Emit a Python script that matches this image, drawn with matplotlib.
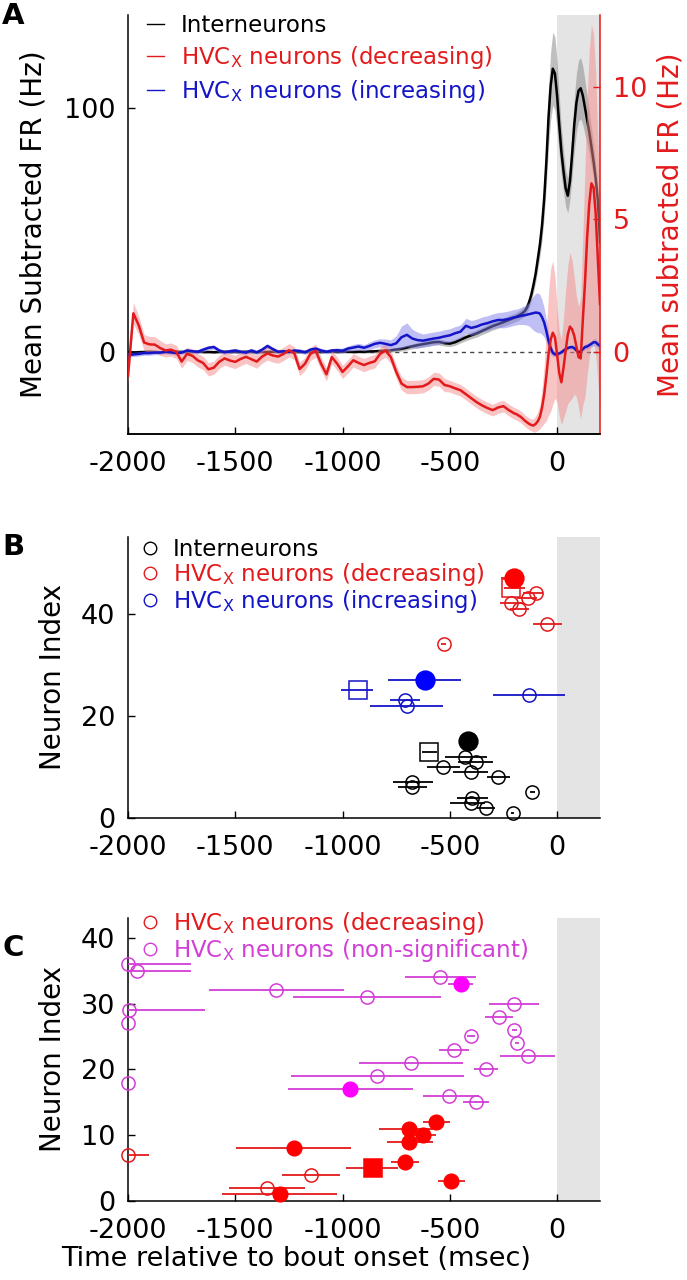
import numpy as np
import matplotlib
matplotlib.use('Agg')
import matplotlib.pyplot as plt
from matplotlib.lines import Line2D

plt.rcParams['font.family'] = ['DejaVu Sans']
plt.rcParams['mathtext.fontset'] = 'dejavusans'
plt.rcParams['axes.unicode_minus'] = False

# ------------------------------------------------------------------ Panel A data
t_coarse = np.arange(-2000, -199, 25)
t_fine = np.arange(-190, 201, 10)
t_ms = np.concatenate([t_coarse, t_fine])

interneuron_fr = [
    0.0, -0.2, -0.1, 0.0, 0.1, 0.0, -0.1, 0.0, 0.0, 0.1,
    0.0, -0.1, 0.0, 0.1, 0.0, 0.0, -0.1, 0.0, 0.1, 0.0,
    0.0, 0.0, 0.1, 0.0, -0.1, 0.0, 0.0, 0.1, 0.0, 0.0,
    0.0, 0.1, 0.0, 0.0, 0.1, 0.0, 0.0, 0.1, 0.1, 0.0,
    0.1, 0.1, 0.0, 0.1, 0.1,
    0.2, 0.3, 0.4, 0.5, 0.7, 1.0, 1.3, 1.8, 2.3, 2.8,
    3.2, 3.6, 4.0, 4.1, 3.6, 3.4, 4.0, 5.0, 6.0, 6.8,
    7.6, 8.6, 9.6, 10.6, 11.4, 12.2, 13.1, 14.0,
    14.4, 14.9, 15.4, 16.0, 16.8, 18.2, 20.5, 23.5, 27.5, 32,
    38, 44, 52, 63, 78, 96, 109, 116, 114, 105,
    93, 82, 74, 67, 64, 70, 81, 93, 102, 107,
    108, 105, 100, 95, 90, 84, 78, 71, 62, 45]
interneuron_sem = [
    0.8, 0.7, 0.6, 0.6, 0.5, 0.5, 0.5, 0.6, 0.5, 0.5,
    0.5, 0.5, 0.5, 0.5, 0.5, 0.5, 0.5, 0.5, 0.5, 0.5,
    0.5, 0.5, 0.5, 0.5, 0.5, 0.5, 0.5, 0.5, 0.5, 0.5,
    0.5, 0.5, 0.5, 0.5, 0.5, 0.5, 0.5, 0.5, 0.5, 0.5,
    0.5, 0.5, 0.5, 0.6, 0.6,
    0.6, 0.7, 0.7, 0.8, 0.8, 0.9, 0.9, 1.0, 1.0, 1.1,
    1.1, 1.2, 1.2, 1.2, 1.2, 1.2, 1.3, 1.3, 1.4, 1.4,
    1.5, 1.5, 1.6, 1.6, 1.7, 1.7, 1.8, 1.8,
    1.8, 1.9, 1.9, 2.0, 2.0, 2.1, 2.3, 2.6, 3.0, 3.5,
    4.2, 5.0, 6.0, 7.5, 9.5, 12, 14, 15, 15, 14,
    12, 10, 8.5, 7.5, 7, 7.5, 9, 11, 12, 12.5,
    12.5, 12, 11, 10, 9, 8, 7, 6, 5.5, 5]

hvcx_dec_fr = [
    -0.9, 1.45, 1.0, 0.35, 0.28, 0.27, 0.14, 0.05, 0.08, 0.0,
    -0.37, -0.08, -0.15, -0.32, -0.42, -0.66, -0.6, -0.38, -0.25, -0.33,
    -0.38, -0.27, -0.19, -0.28, -0.37, -0.18, -0.06, -0.14, -0.18, -0.08,
    0.06, -0.05, -0.65, -0.45, -0.08, 0.04, -0.45, -0.85, -0.2, -0.45,
    -0.76, -0.55, -0.32, -0.42, -0.5, -0.42, -0.36, -0.08, 0.05, -0.2,
    -0.75, -1.2, -1.33, -1.33, -1.32, -1.3, -1.2, -1.02, -1.05, -1.25,
    -1.3, -1.38, -1.45, -1.6, -1.75, -1.9, -2.02, -2.12, -2.2, -2.1,
    -2.05, -2.2, -2.32,
    -2.35, -2.4, -2.45, -2.52, -2.6, -2.66, -2.72, -2.76, -2.78, -2.72,
    -2.62, -2.45, -2.1, -1.6, -0.9, -0.1, 0.45, 0.72, 0.55, -0.1,
    -0.8, -1.15, -0.6, 0.05, 0.65, 0.95, 0.85, 0.6, 0.2, -0.2,
    -0.25, 1.2, 2.6, 4.3, 5.6, 6.35, 6.2, 5.2, 3.5, 1.8]
hvcx_dec_sem = [
    0.35, 0.4, 0.35, 0.3, 0.3, 0.3, 0.28, 0.25, 0.25, 0.25,
    0.25, 0.25, 0.25, 0.25, 0.25, 0.25, 0.25, 0.25, 0.25, 0.25,
    0.25, 0.25, 0.25, 0.25, 0.25, 0.25, 0.25, 0.25, 0.25, 0.25,
    0.25, 0.25, 0.25, 0.25, 0.25, 0.25, 0.25, 0.25, 0.25, 0.25,
    0.25, 0.25, 0.25, 0.25, 0.25, 0.25, 0.25, 0.25, 0.25, 0.25,
    0.25, 0.25, 0.25, 0.25, 0.25, 0.25, 0.25, 0.25, 0.25, 0.25,
    0.22, 0.22, 0.22, 0.22, 0.22, 0.22, 0.22, 0.22, 0.22, 0.22,
    0.22, 0.22, 0.22,
    0.22, 0.22, 0.22, 0.22, 0.22, 0.22, 0.22, 0.22, 0.25, 0.3,
    0.35, 0.45, 0.7, 1.1, 1.7, 2.3, 2.7, 2.7, 2.3, 1.8,
    1.6, 1.6, 1.9, 2.3, 2.6, 2.8, 2.6, 2.2, 1.9, 1.9,
    2.3, 3.2, 4.3, 5.2, 5.8, 6.0, 5.8, 5.3, 4.6, 4.0]

hvcx_inc_fr = [
    -0.12, -0.1, -0.08, -0.05, -0.05, -0.03, -0.03, 0.0, -0.02, -0.05,
    -0.03, 0.05, 0.02, 0.0, 0.08, 0.15, 0.18, 0.05, -0.02, 0.02,
    0.05, 0.0, -0.03, 0.05, -0.02, 0.08, 0.22, 0.1, 0.0, 0.02,
    0.0, 0.05, 0.03, -0.02, 0.08, 0.12, 0.05, 0.0, 0.05, 0.06,
    0.04, 0.12, 0.16, 0.2, 0.15, 0.22, 0.3, 0.34, 0.3, 0.25,
    0.32, 0.55, 0.64, 0.5, 0.44, 0.42, 0.46, 0.5, 0.53, 0.58,
    0.62, 0.7, 0.76, 0.98, 0.9, 0.95, 1.03, 1.08, 1.15, 1.2,
    1.2, 1.24, 1.3,
    1.31, 1.33, 1.35, 1.37, 1.38, 1.4, 1.42, 1.44, 1.46, 1.48,
    1.47, 1.44, 1.3, 1.1, 0.78, 0.42, 0.14, -0.04, -0.1, -0.1,
    -0.06, -0.02, 0.05, 0.1, 0.14, 0.17, 0.18, 0.14, 0.05, -0.02,
    0.02, 0.1, 0.18, 0.2, 0.25, 0.3, 0.36, 0.36, 0.28, 0.22]
hvcx_inc_sem = [
    0.08, 0.08, 0.08, 0.08, 0.08, 0.08, 0.08, 0.08, 0.08, 0.08,
    0.08, 0.08, 0.08, 0.08, 0.08, 0.08, 0.08, 0.08, 0.08, 0.08,
    0.08, 0.08, 0.08, 0.08, 0.08, 0.08, 0.08, 0.08, 0.08, 0.08,
    0.08, 0.08, 0.08, 0.08, 0.08, 0.08, 0.08, 0.08, 0.08, 0.08,
    0.1, 0.1, 0.12, 0.12, 0.12, 0.14, 0.15, 0.15, 0.18, 0.2,
    0.28, 0.42, 0.45, 0.35, 0.3, 0.25, 0.25, 0.25, 0.25, 0.25,
    0.25, 0.25, 0.25, 0.28, 0.28, 0.28, 0.28, 0.28, 0.28, 0.28,
    0.3, 0.3, 0.3,
    0.3, 0.3, 0.32, 0.34, 0.36, 0.4, 0.45, 0.55, 0.65, 0.72,
    0.75, 0.72, 0.65, 0.55, 0.45, 0.35, 0.25, 0.15, 0.1, 0.08,
    0.08, 0.08, 0.08, 0.08, 0.08, 0.08, 0.08, 0.08, 0.08, 0.08,
    0.1, 0.1, 0.1, 0.12, 0.12, 0.12, 0.14, 0.14, 0.15, 0.15]

# ------------------------------------------------------------------ Panel B data
b_int_x = [-429, -378, -530, -402, -274, -674, -674, -115, -398, -402, -331, -207]
b_int_y = [12, 11, 10, 9, 8, 7, 6, 5, 4, 3, 2, 1]
b_int_lo = [-522, -460, -607, -483, -328, -763, -740, -125, -468, -499, -374, -215]
b_int_hi = [-328, -297, -452, -320, -219, -580, -607, -105, -320, -335, -289, -199]
b_int_mean_x, b_int_mean_y = [-416], [15]
b_int_med_x, b_int_med_y, b_int_med_lo, b_int_med_hi = [-597], [13], [-628], [-558]

b_inc_x = [-129, -709, -701]
b_inc_y = [24, 23, 22]
b_inc_lo = [-297, -779, -874]
b_inc_hi = [39, -639, -530]
b_inc_mean_x, b_inc_mean_y, b_inc_mean_lo, b_inc_mean_hi = [-615], [27], [-786], [-448]
b_inc_med_x, b_inc_med_y, b_inc_med_lo, b_inc_med_hi = [-929], [25], [-1006], [-856]

b_dec_x = [-98, -137, -216, -177, -48, -528]
b_dec_y = [44, 43, 42, 41, 38, 34]
b_dec_lo = [-157, -185, -266, -220, -110, -540]
b_dec_hi = [-64, -95, -157, -130, 22, -516]
b_dec_mean_x, b_dec_mean_y, b_dec_mean_lo, b_dec_mean_hi = [-200], [47], [-261], [-160]
b_dec_med_x, b_dec_med_y, b_dec_med_lo, b_dec_med_hi = [-215], [45], [-249], [-150]

# ------------------------------------------------------------------ Panel C data
c_ns_x = [-2000, -1958, -1309, -887, -548, -1995, -2000, -203, -272, -199,
          -186, -401, -481, -137, -680, -331, -840, -2000, -506, -380]
c_ns_y = [36, 35, 32, 31, 34, 29, 27, 30, 28, 26, 24, 25, 23, 22, 21, 20, 19, 18, 16, 15]
c_ns_lo = [-2000, -2000, -1623, -1231, -711, -2000, -2000, -318, -334, -212,
           -196, -420, -551, -264, -921, -385, -1242, -2000, -626, -439]
c_ns_hi = [-1705, -1705, -991, -540, -377, -1643, -2000, -85, -207, -186,
           -176, -382, -411, -12, -439, -276, -435, -2000, -362, -318]
c_ns_sig_x = [-450, -964]
c_ns_sig_y = [33, 17]
c_ns_sig_lo = [-509, -1255]
c_ns_sig_hi = [-393, -672]

c_dec_sig_x = [-564, -691, -623, -688, -1228, -711, -494, -1293]
c_dec_sig_y = [12, 11, 10, 9, 8, 6, 3, 1]
c_dec_sig_lo = [-626, -828, -696, -793, -1498, -776, -556, -1561]
c_dec_sig_hi = [-501, -579, -564, -579, -960, -644, -427, -1026]
c_dec_med_x, c_dec_med_y, c_dec_med_lo, c_dec_med_hi = [-859], [5], [-983], [-742]
c_dec_x = [-2000, -1149, -1352]
c_dec_y = [7, 4, 2]
c_dec_lo = [-2000, -1281, -1530]
c_dec_hi = [-1904, -1011, -1177]

x_ticks = [-2000, -1500, -1000, -500, 0]

# ------------------------------------------------------------------ styling
RED = '#e31a1c'
BLUE = '#1414c8'
MAG = '#d23ed6'
MAGF = '#ff00ff'
SHADE = '#e4e4e4'
FS_TICK = 19.5
FS_LAB = 20
FS_LEG = 16.5
HVCX = r'HVC$_\mathregular{X}$'

fig = plt.figure(figsize=(6.87, 12.8), dpi=100)
W, H = 687.0, 1280.0


def add_axes(left, top, right, bottom):
    return fig.add_axes([left / W, 1 - bottom / H, (right - left) / W, (bottom - top) / H])


def style(ax):
    ax.tick_params(direction='in', length=5, width=1.0, labelsize=FS_TICK, pad=9)
    ax.tick_params(axis='x', pad=12)
    for s in ax.spines.values():
        s.set_linewidth(1.1)


# ------------------------------------------------------------------ Panel A
axA = add_axes(128, 15, 600, 434)
axA.axvspan(0, 200, color=SHADE, zorder=0, lw=0)
axA.axhline(0, ls='--', color='#444444', lw=1.0, dashes=(3, 3), zorder=1)
bf = np.array(interneuron_fr)
bs = np.array(interneuron_sem)
axA.fill_between(t_ms, bf - bs, bf + bs, color='#8c8c8c', alpha=0.55, lw=0, zorder=2)
lk, = axA.plot(t_ms, bf, color='black', lw=1.8, zorder=3)
axA.set_xlim(-2000, 200)
axA.set_ylim(-33.6, 138)
axA.set_yticks([0, 100])
axA.set_xticks(x_ticks)
axA.set_ylabel('Mean Subtracted FR (Hz)', fontsize=FS_LAB, labelpad=12)
axA.spines['top'].set_visible(False)
axA.spines['right'].set_visible(False)
style(axA)

axR = axA.twinx()
rf = np.array(hvcx_dec_fr)
rs = np.array(hvcx_dec_sem)
uf = np.array(hvcx_inc_fr)
us = np.array(hvcx_inc_sem)
axR.fill_between(t_ms, uf - us, uf + us, color='#8080ee', alpha=0.5, lw=0)
axR.fill_between(t_ms, rf - rs, rf + rs, color='#f48a8a', alpha=0.5, lw=0)
lb, = axR.plot(t_ms, uf, color=BLUE, lw=1.8)
lr, = axR.plot(t_ms, rf, color=RED, lw=1.8)
axR.set_ylim(-3.1, 12.7)
axR.set_yticks([0, 5, 10])
axR.spines['top'].set_visible(False)
axR.spines['left'].set_visible(False)
axR.spines['right'].set_color(RED)
style(axR)
axR.tick_params(axis='y', colors=RED, labelcolor=RED)
axR.set_ylabel('Mean subtracted FR (Hz)', fontsize=FS_LAB, color=RED, labelpad=7)

legA = axR.legend([lk, lr, lb], ['Interneurons', HVCX + ' neurons (decreasing)',
                                 HVCX + ' neurons (increasing)'],
                  loc='upper left', bbox_to_anchor=(0.02, 1.025), frameon=False,
                  fontsize=FS_LEG, handlelength=0.75, handletextpad=0.75,
                  labelspacing=0.32, borderaxespad=0.0)
for txt, c in zip(legA.get_texts(), ['black', RED, BLUE]):
    txt.set_color(c)
for h in legA.legend_handles:
    h.set_linewidth(1.0)


def pts(ax, x, y, lo, hi, color, marker='o', ms=9.5, filled=False, fc=None, z=3):
    x = np.asarray(x, float)
    y = np.asarray(y, float)
    lo = np.asarray(lo, float)
    hi = np.asarray(hi, float)
    ax.errorbar(x, y, xerr=[x - lo, hi - x], fmt=marker, ls='none', color=color,
                ms=ms, mfc=(fc or color) if filled else 'none', mec=(fc or color),
                mew=1.1, elinewidth=1.3, capsize=0, clip_on=False, zorder=z)


# ------------------------------------------------------------------ Panel B
axB = add_axes(128, 537, 600, 818)
axB.axvspan(0, 200, color=SHADE, zorder=0, lw=0)
pts(axB, b_int_x, b_int_y, b_int_lo, b_int_hi, 'black')
pts(axB, b_int_med_x, b_int_med_y, b_int_med_lo, b_int_med_hi, 'black', marker='s', ms=13.5)
pts(axB, b_int_mean_x, b_int_mean_y, b_int_mean_x, b_int_mean_x, 'black', ms=13.5, filled=True, z=4)
pts(axB, b_inc_x, b_inc_y, b_inc_lo, b_inc_hi, BLUE)
pts(axB, b_inc_med_x, b_inc_med_y, b_inc_med_lo, b_inc_med_hi, BLUE, marker='s', ms=13.5)
pts(axB, b_inc_mean_x, b_inc_mean_y, b_inc_mean_lo, b_inc_mean_hi, BLUE, ms=13.5, filled=True,
    fc='#0000ff', z=4)
pts(axB, b_dec_x, b_dec_y, b_dec_lo, b_dec_hi, RED)
pts(axB, b_dec_med_x, b_dec_med_y, b_dec_med_lo, b_dec_med_hi, RED, marker='s', ms=13.5)
pts(axB, b_dec_mean_x, b_dec_mean_y, b_dec_mean_lo, b_dec_mean_hi, RED, ms=13.5, filled=True,
    fc='#ff0000', z=4)
axB.set_xlim(-2000, 200)
axB.set_ylim(0, 55)
axB.set_yticks([0, 20, 40])
axB.set_xticks(x_ticks)
axB.set_ylabel('Neuron Index', fontsize=FS_LAB, labelpad=10)
axB.spines['top'].set_visible(False)
axB.spines['right'].set_visible(False)
style(axB)
hB = [Line2D([], [], ls='none', marker='o', ms=9, mfc='none', mec=c, mew=1.0)
      for c in ['black', RED, BLUE]]
legB = axB.legend(hB, ['Interneurons', HVCX + ' neurons (decreasing)', HVCX + ' neurons (increasing)'],
                  loc='upper left', bbox_to_anchor=(0.0, 1.03), frameon=False, fontsize=FS_LEG,
                  handlelength=1.1, handletextpad=0.45, labelspacing=0.0, borderaxespad=0.0)
for txt, c in zip(legB.get_texts(), ['black', RED, BLUE]):
    txt.set_color(c)

# ------------------------------------------------------------------ Panel C
axC = add_axes(128, 918, 600, 1201)
axC.axvspan(0, 200, color=SHADE, zorder=0, lw=0)
pts(axC, c_ns_x, c_ns_y, c_ns_lo, c_ns_hi, MAG)
pts(axC, c_ns_sig_x, c_ns_sig_y, c_ns_sig_lo, c_ns_sig_hi, MAG, ms=10.5, filled=True, fc=MAGF, z=4)
pts(axC, c_dec_x, c_dec_y, c_dec_lo, c_dec_hi, RED)
pts(axC, c_dec_sig_x, c_dec_sig_y, c_dec_sig_lo, c_dec_sig_hi, RED, ms=10.5, filled=True,
    fc='#ff0000', z=4)
pts(axC, c_dec_med_x, c_dec_med_y, c_dec_med_lo, c_dec_med_hi, RED, marker='s', ms=13,
    filled=True, fc='#ff0000', z=4)
axC.set_xlim(-2000, 200)
axC.set_ylim(0, 43)
axC.set_yticks([0, 10, 20, 30, 40])
axC.set_xticks(x_ticks)
axC.set_ylabel('Neuron Index', fontsize=FS_LAB, labelpad=10)
axC.set_xlabel('Time relative to bout onset (msec)', fontsize=19.5)
axC.xaxis.set_label_coords((296 - 128) / 472.0, -0.158)
axC.spines['top'].set_visible(False)
axC.spines['right'].set_visible(False)
style(axC)
hC = [Line2D([], [], ls='none', marker='o', ms=9, mfc='none', mec=c, mew=1.0) for c in [RED, MAG]]
legC = axC.legend(hC, [HVCX + ' neurons (decreasing)', HVCX + ' neurons (non-significant)'],
                  loc='upper left', bbox_to_anchor=(0.0, 1.06), frameon=False, fontsize=FS_LEG,
                  handlelength=1.1, handletextpad=0.45, labelspacing=0.0, borderaxespad=0.0)
for txt, c in zip(legC.get_texts(), [RED, MAG]):
    txt.set_color(c)

# panel letters
for lab, yy in [('A', 16), ('B', 547), ('C', 948)]:
    fig.text(2 / W, 1 - yy / H, lab, fontsize=21, fontweight='bold', va='center', ha='left')

fig.savefig('out.png', dpi=100)
